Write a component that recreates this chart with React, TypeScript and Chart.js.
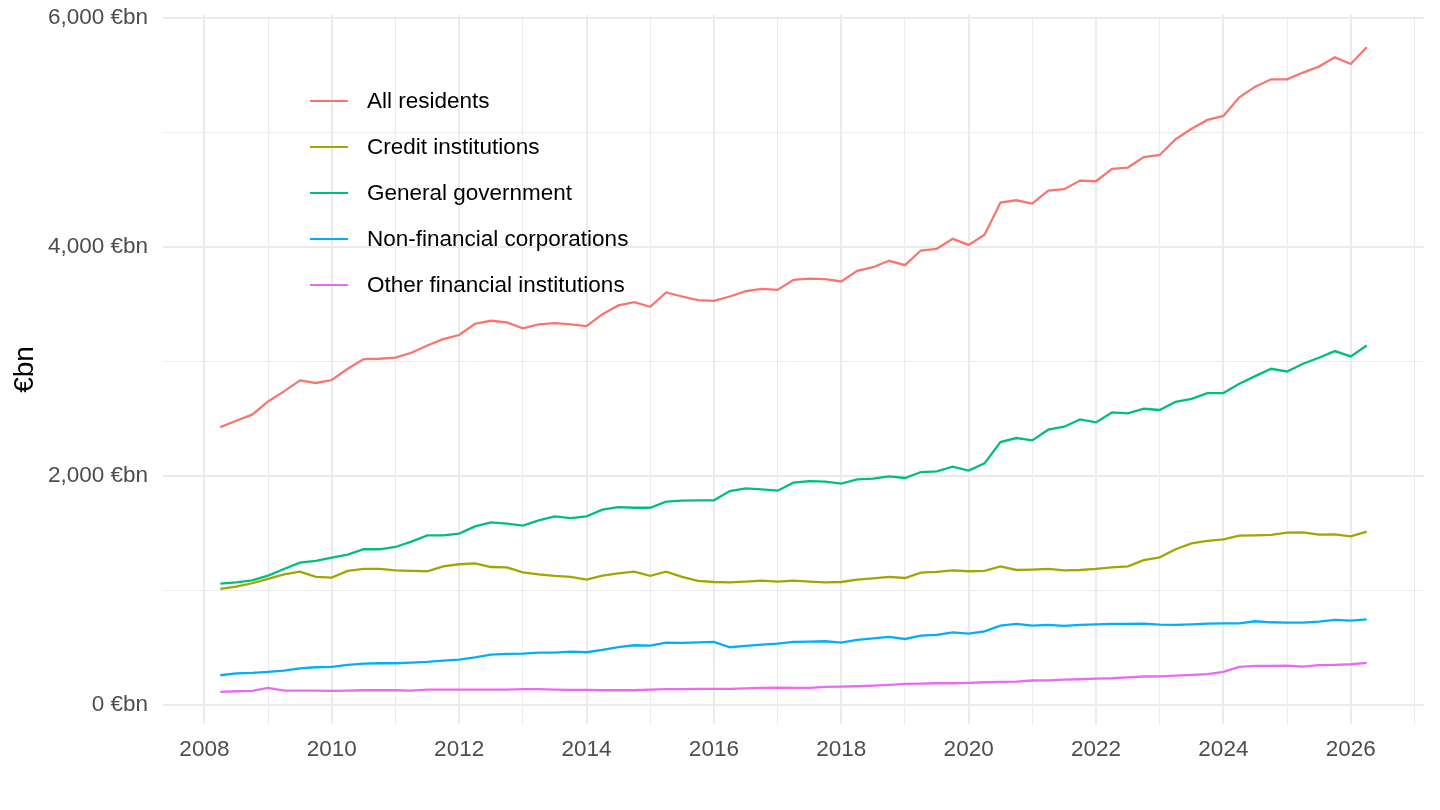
import { useEffect, useRef } from 'react'
import { Chart, registerables } from 'chart.js'

Chart.register(...registerables)

// quarterly observations, 2008Q2 .. 2026Q2
const QUARTERS = Array.from({ length: 73 }, (_, i) => 2008.25 + i * 0.25)

const X_TICKS = [
  2008, 2009, 2010, 2011, 2012, 2013, 2014, 2015, 2016, 2017,
  2018, 2019, 2020, 2021, 2022, 2023, 2024, 2025, 2026, 2027,
]
const Y_TICKS = [0, 1000, 2000, 3000, 4000, 5000, 6000]

const ALL_RESIDENTS = [
  2425, 2480, 2533, 2649, 2737, 2833, 2810, 2836, 2934, 3019, 3022, 3031, 3074, 3138, 3194, 3229, 3328, 3354, 3339,
  3287, 3322, 3333, 3322, 3307, 3412, 3488, 3517, 3476, 3601, 3566, 3534, 3528, 3566, 3613, 3633, 3624, 3712, 3723, 3718,
  3697, 3790, 3822, 3878, 3840, 3968, 3983, 4070, 4017, 4105, 4387, 4407, 4378, 4492, 4504, 4579, 4573, 4681, 4693, 4785,
  4803, 4940, 5031, 5109, 5144, 5307, 5400, 5464, 5464, 5523, 5575, 5656, 5598, 5744,
]

const CREDIT_INSTITUTIONS = [
  1010, 1031, 1060, 1098, 1138, 1162, 1115, 1109, 1168, 1185, 1185, 1173, 1168, 1165, 1208, 1226, 1234, 1202, 1198,
  1156, 1138, 1124, 1115, 1092, 1127, 1147, 1162, 1124, 1162, 1115, 1080, 1071, 1068, 1074, 1083, 1074, 1083, 1074, 1068,
  1071, 1092, 1103, 1115, 1106, 1153, 1159, 1173, 1165, 1168, 1208, 1176, 1179, 1185, 1173, 1176, 1185, 1199, 1208, 1262,
  1287, 1357, 1409, 1430, 1444, 1476, 1479, 1482, 1502, 1505, 1485, 1488, 1470, 1511,
]

const GENERAL_GOVERNMENT = [
  1057, 1068, 1086, 1127, 1185, 1240, 1255, 1284, 1310, 1357, 1357, 1377, 1424, 1479, 1479, 1494, 1557, 1592, 1582,
  1563, 1610, 1645, 1630, 1645, 1703, 1726, 1720, 1720, 1773, 1782, 1785, 1785, 1866, 1889, 1880, 1869, 1939, 1953, 1949,
  1930, 1968, 1974, 1994, 1980, 2032, 2038, 2079, 2044, 2108, 2294, 2329, 2309, 2402, 2428, 2492, 2466, 2553, 2544, 2585,
  2574, 2646, 2672, 2722, 2722, 2803, 2870, 2934, 2911, 2978, 3031, 3089, 3042, 3138,
]

const NON_FINANCIAL_CORPS = [
  256, 273, 277, 286, 297, 317, 326, 329, 347, 358, 361, 361, 367, 373, 384, 393, 413, 437, 443, 445, 454, 454, 463, 457,
  478, 501, 518, 515, 541, 539, 544, 547, 501, 513, 524, 533, 547, 550, 553, 541, 565, 579, 591, 573, 603, 608, 631, 620, 640,
  690, 705, 690, 696, 687, 696, 701, 705, 705, 707, 699, 696, 701, 707, 710, 710, 728, 719, 716, 716, 725, 740, 734, 745,
]

const OTHER_FINANCIAL = [
  111, 116, 120, 146, 122, 122, 122, 120, 122, 125, 125, 125, 122, 131, 131, 131, 131, 131, 131, 134, 134, 131, 128, 128,
  125, 125, 125, 131, 134, 134, 137, 137, 137, 142, 146, 148, 146, 146, 154, 157, 160, 166, 172, 181, 183, 186, 186, 189, 195,
  198, 201, 210, 212, 218, 221, 227, 230, 238, 245, 247, 253, 259, 265, 286, 329, 338, 338, 341, 332, 344, 347, 352, 364,
]

const SERIES = [
  { label: 'All residents', color: '#F8766D', values: ALL_RESIDENTS },
  { label: 'Credit institutions', color: '#A3A500', values: CREDIT_INSTITUTIONS },
  { label: 'General government', color: '#00BF7D', values: GENERAL_GOVERNMENT },
  { label: 'Non-financial corporations', color: '#00B0F6', values: NON_FINANCIAL_CORPS },
  { label: 'Other financial institutions', color: '#E76BF3', values: OTHER_FINANCIAL },
]

const FONT = '"Liberation Sans", Arial, Helvetica, sans-serif'
const GRID = '#ebebeb'

export default function App() {
  const canvasRef = useRef<HTMLCanvasElement>(null)
  const chartRef = useRef<Chart | null>(null)

  useEffect(() => {
    document.body.style.margin = '0'
    if (!canvasRef.current) return
    const ctx = canvasRef.current.getContext('2d')
    if (!ctx) return

    Chart.defaults.font.family = FONT

    chartRef.current = new Chart(ctx, {
      type: 'line',
      data: {
        datasets: SERIES.map((s) => ({
          label: s.label,
          data: s.values.map((v, i) => ({ x: QUARTERS[i], y: v })),
          borderColor: s.color,
          backgroundColor: s.color,
          borderWidth: 2.3,
          pointRadius: 0,
          tension: 0,
          fill: false,
        })),
      },
      options: {
        animation: false,
        responsive: true,
        maintainAspectRatio: false,
        layout: { padding: { top: 15, right: 16, left: 0, bottom: 0 } },
        plugins: {
          legend: { display: false },
          tooltip: { enabled: false },
        },
        scales: {
          x: {
            type: 'linear',
            min: 2007.35,
            max: 2027.15,
            afterBuildTicks: (scale) => {
              scale.ticks = X_TICKS.map((v) => ({ value: v }))
            },
            afterFit: (scale) => {
              scale.height = 86
              scale.paddingLeft = 0
              scale.paddingRight = 0
            },
            border: { display: false },
            grid: {
              color: GRID,
              drawTicks: false,
              lineWidth: (c) => (c.tick && c.tick.value % 2 === 0 ? 2 : 1),
            },
            ticks: {
              autoSkip: false,
              maxRotation: 0,
              padding: 12,
              color: '#4d4d4d',
              font: { size: 22.5 },
              callback: (v) => (Number(v) % 2 === 0 ? String(v) : ''),
            },
          },
          y: {
            type: 'linear',
            min: -170,
            max: 6026,
            afterBuildTicks: (scale) => {
              scale.ticks = Y_TICKS.map((v) => ({ value: v }))
            },
            afterFit: (scale) => {
              scale.width = 163
              scale.paddingTop = 0
              scale.paddingBottom = 0
            },
            border: { display: false },
            grid: {
              color: GRID,
              drawTicks: false,
              lineWidth: (c) => (c.tick && c.tick.value % 2000 === 0 ? 2 : 1),
            },
            ticks: {
              autoSkip: false,
              padding: 15,
              color: '#4d4d4d',
              font: { size: 22.5 },
              callback: (v) =>
                Number(v) % 2000 === 0 ? `${Number(v).toLocaleString('en-US')} €bn` : '',
            },
            title: {
              display: true,
              text: '€bn',
              color: '#000000',
              font: { size: 28 },
              padding: { top: 8, bottom: 0 },
            },
          },
        },
      },
    })

    return () => {
      chartRef.current?.destroy()
      chartRef.current = null
    }
  }, [])

  return (
    <div style={{ position: 'relative', width: 1440, height: 810, background: '#ffffff', fontFamily: FONT }}>
      <canvas ref={canvasRef} />
      <div style={{ position: 'absolute', left: 310, top: 78 }}>
        {SERIES.map((s) => (
          <div key={s.label} style={{ display: 'flex', alignItems: 'center', height: 46 }}>
            <span style={{ display: 'inline-block', width: 38, height: 2.3, background: s.color }} />
            <span style={{ marginLeft: 19, fontSize: 22.5, color: '#000000', whiteSpace: 'nowrap' }}>
              {s.label}
            </span>
          </div>
        ))}
      </div>
    </div>
  )
}
